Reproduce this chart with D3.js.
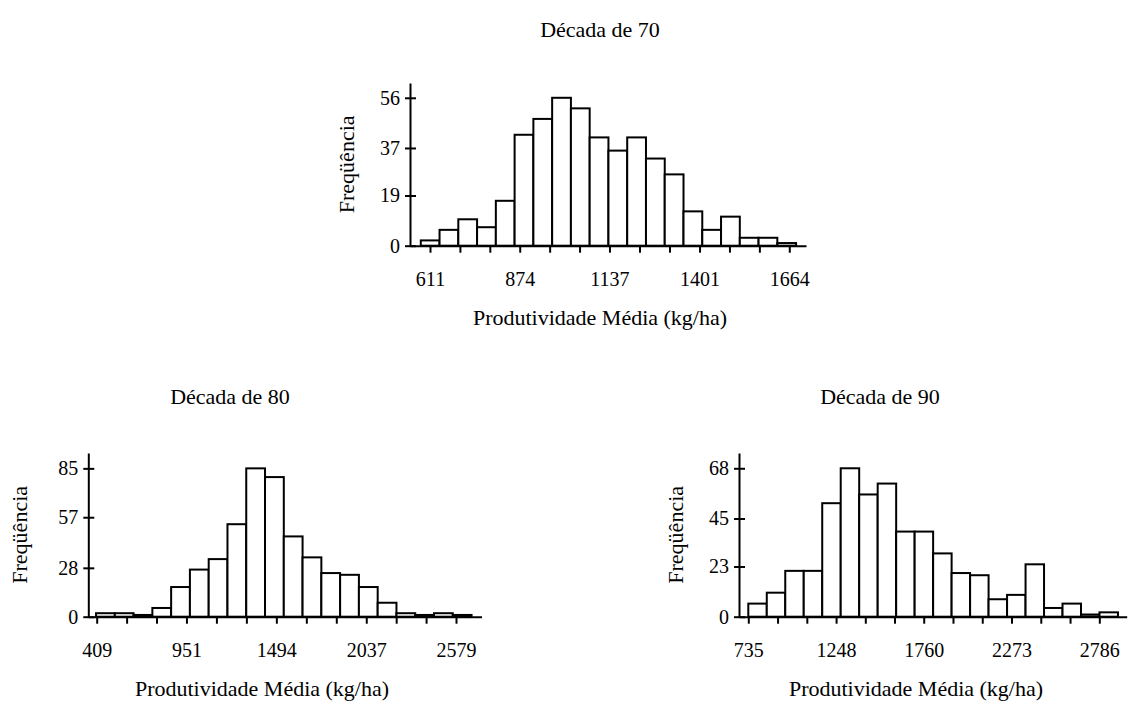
<!DOCTYPE html>
<html>
<head>
<meta charset="utf-8">
<script src="https://cdn.jsdelivr.net/npm/d3@7"></script>
<style>
  body { margin: 0; background: #fff; }
  svg { display: block; font-family: "Liberation Serif", "Times New Roman", serif; }
</style>
</head>
<body>
<div id="chart"></div>
<script>
// ---- data ----
const titles = ["Década de 70", "Década de 80", "Década de 90"];
const xTitle = "Produtividade Média (kg/ha)";
const yTitle = "Freqüência";

// frequency per class, 20 classes per decade
const counts70 = [2, 6, 10, 7, 17, 42, 48, 56, 52, 41, 36, 41, 33, 27, 13, 6, 11, 3, 3, 1];
const counts80 = [2, 2, 1, 5, 17, 27, 33, 53, 85, 80, 46, 34, 25, 24, 17, 8, 2, 1, 2, 1];
const counts90 = [6, 11, 21, 21, 52, 68, 56, 61, 39, 39, 29, 20, 19, 8, 10, 24, 4, 6, 1, 2];

// first class lower bound and class width (kg/ha)
const classStart = [584, 405, 735];
const classWidth = [55, 113.4, 108];

// tick labels
const xTicks70 = [611, 874, 1137, 1401, 1664];
const xTicks80 = [409, 951, 1494, 2037, 2579];
const xTicks90 = [735, 1248, 1760, 2273, 2786];
const yTicks70 = [0, 19, 37, 56];
const yTicks80 = [0, 28, 57, 85];
const yTicks90 = [0, 23, 45, 68];

// ---- layout ----
const width = 1130, height = 702;
const panels = [
    { counts: counts70, xTicks: xTicks70, yTicks: yTicks70, left: 410, right: 806, top: 83, bottom: 245.7,
      xDomain: [552.4, 1713], yMax: 61.6, titleX: 600, titleY: 37, xLabelX: 600, yLabelX: 354 },
    { counts: counts80, xTicks: xTicks80, yTicks: yTicks80, left: 88.3, right: 481.5, top: 453, bottom: 616.7,
      xDomain: [358.3, 2733], yMax: 93.8, titleX: 230, titleY: 404, xLabelX: 262, yLabelX: 27 },
    { counts: counts90, xTicks: xTicks90, yTicks: yTicks90, left: 739, right: 1126.7, top: 453, bottom: 616.7,
      xDomain: [680.7, 2946], yMax: 75, titleX: 880, titleY: 404, xLabelX: 916, yLabelX: 683 }
];

const svg = d3.select('#chart')
    .append('svg')
    .attr('width', width)
    .attr('height', height);

panels.forEach((p, k) => {
    const x = d3.scaleLinear().domain(p.xDomain).range([p.left, p.right]);
    const y = d3.scaleLinear().domain([0, p.yMax]).range([p.bottom, p.top]);
    const g = svg.append('g');

    // bars
    const bins = p.counts.map((c, i) => ({
        x0: classStart[k] + i * classWidth[k],
        x1: classStart[k] + (i + 1) * classWidth[k],
        count: c
    }));
    g.selectAll('rect.bar')
        .data(bins)
        .enter()
        .append('rect')
        .attr('class', 'bar')
        .attr('x', d => x(d.x0))
        .attr('width', d => x(d.x1) - x(d.x0))
        .attr('y', d => y(d.count))
        .attr('height', d => y(0) - y(d.count))
        .attr('fill', '#fff')
        .attr('stroke', '#000')
        .attr('stroke-width', 2);

    // x axis: labelled ticks plus two unlabelled ticks between each pair
    const allTicks = [];
    p.xTicks.forEach((t, i) => {
        allTicks.push(t);
        if (i < p.xTicks.length - 1) {
            const step = (p.xTicks[i + 1] - t) / 3;
            allTicks.push(t + step, t + 2 * step);
        }
    });
    const xAxis = d3.axisBottom(x)
        .tickValues(allTicks)
        .tickSizeInner(7)
        .tickSizeOuter(0)
        .tickPadding(19)
        .tickFormat(d => p.xTicks.includes(d) ? d : '');
    const gx = g.append('g')
        .attr('transform', `translate(0,${p.bottom})`)
        .call(xAxis);

    const yAxis = d3.axisLeft(y)
        .tickValues(p.yTicks)
        .tickSizeInner(5)
        .tickSizeOuter(0)
        .tickPadding(5)
        .tickFormat(d => d);
    const gy = g.append('g')
        .attr('transform', `translate(${p.left},0)`)
        .call(yAxis);
    gy.selectAll('.tick line').attr('x1', 6).attr('x2', -5);

    [gx, gy].forEach(a => {
        a.select('.domain').attr('stroke', '#000').attr('stroke-width', 2);
        a.selectAll('.tick line').attr('stroke', '#000').attr('stroke-width', 2);
        a.selectAll('.tick text')
            .attr('fill', '#000')
            .style('font-size', '20px')
            .style('font-family', '"Liberation Serif", serif');
    });

    // titles
    g.append('text')
        .attr('x', p.titleX)
        .attr('y', p.titleY)
        .attr('text-anchor', 'middle')
        .style('font-size', '22px')
        .text(titles[k]);

    g.append('text')
        .attr('x', p.xLabelX)
        .attr('y', p.bottom + 79)
        .attr('text-anchor', 'middle')
        .style('font-size', '22px')
        .text(xTitle);

    g.append('text')
        .attr('transform', `translate(${p.yLabelX},${(p.top + p.bottom) / 2}) rotate(-90)`)
        .attr('text-anchor', 'middle')
        .style('font-size', '22px')
        .text(yTitle);
});
</script>
</body>
</html>
